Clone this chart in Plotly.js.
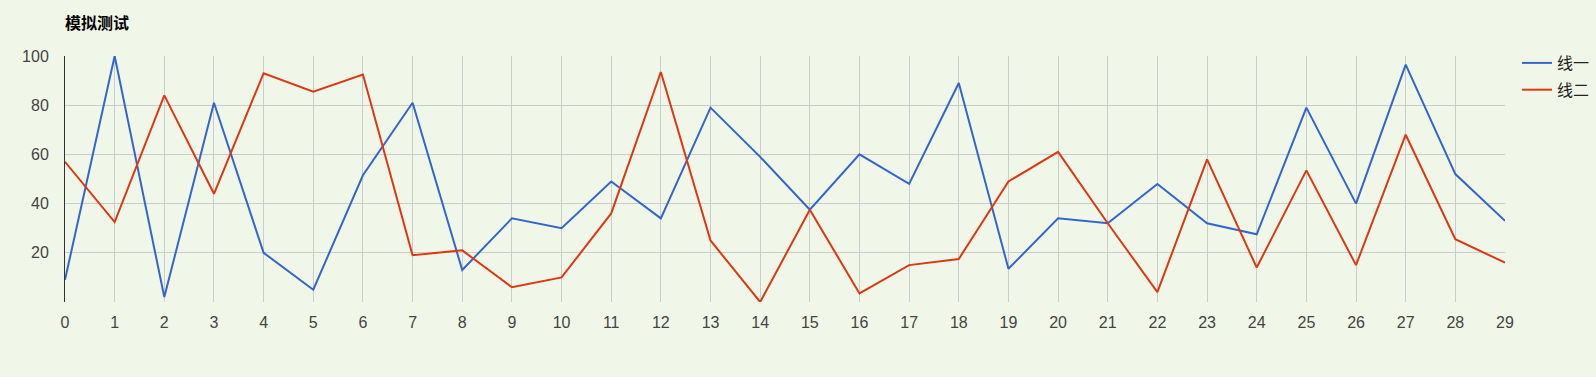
<!DOCTYPE html>
<html>
<head>
<meta charset="utf-8">
<script src="https://cdn.plot.ly/plotly-3.0.1.min.js"></script>
<style>
html,body{margin:0;padding:0;background:#f1f7e8;}
#chart{width:1596px;height:377px;}
</style>
</head>
<body>
<div id="chart"></div>
<script>
const categories = [0,1,2,3,4,5,6,7,8,9,10,11,12,13,14,15,16,17,18,19,20,21,22,23,24,25,26,27,28,29];
const seriesNames = ['线一', '线二'];
const line1 = [9,100,2,81,20,5,51.5,81,13,34,30,49,34,79,59,37.5,60,48,89,13.5,34,32,48,32,27.5,79,40,96.5,52,33];
const line2 = [57,32.5,84,44,93,85.5,92.5,19,21,6,10,36,93.5,25,0,37.5,3.5,15,17.5,49,61,32,4,58,14,53.5,15,68,25.5,16];
const yTicks = [20,40,60,80,100];
const chartTitle = '模拟测试';

const font = "Arial, 'Liberation Sans', 'Noto Sans CJK SC', sans-serif";
const bg = '#f1f7e8';

const traces = [
  {x: categories, y: line1, name: seriesNames[0], type: 'scatter', mode: 'lines',
   line: {color: '#3366cc', width: 2}, legendgroup: 'a'},
  {x: categories, y: line2, name: seriesNames[1], type: 'scatter', mode: 'lines',
   line: {color: '#dc3912', width: 2}, legendgroup: 'b'}
];

const layout = {
  width: 1596, height: 377,
  paper_bgcolor: bg, plot_bgcolor: bg,
  margin: {l: 65, r: 91, t: 56, b: 75, pad: 0, autoexpand: false},
  font: {family: font, size: 16, color: '#444'},
  title: {text: '<b>' + chartTitle + '</b>', x: 65/1596, xanchor: 'left', xref: 'container',
          y: 1 - 23/377, yanchor: 'middle', yref: 'container',
          font: {family: font, size: 16, color: '#000'}},
  xaxis: {range: [0, 29], tickvals: categories, ticktext: categories.map(String),
          showgrid: true, gridcolor: '#cccccc', gridwidth: 1, zeroline: false,
          showline: false, ticks: '', fixedrange: true, ticklabelstandoff: 9,
          tickfont: {family: font, size: 16, color: '#444'}},
  yaxis: {range: [0, 100], tickvals: yTicks, ticktext: yTicks.map(String),
          showgrid: true, gridcolor: '#cccccc', gridwidth: 1, zeroline: false,
          showline: true, linecolor: '#333', linewidth: 1, ticks: '',
          ticklabelstandoff: 12, fixedrange: true,
          tickfont: {family: font, size: 16, color: '#444'}},
  showlegend: true,
  legend: {x: 1517 / 1596, xref: 'container', xanchor: 'left', y: 1 - 46/377, yref: 'container', yanchor: 'top',
           bgcolor: 'rgba(0,0,0,0)', borderwidth: 0,
           font: {family: font, size: 16, color: '#222'},
           traceorder: 'grouped', tracegroupgap: 3, itemwidth: 30}
};

Plotly.newPlot('chart', traces, layout, {displayModeBar: false, staticPlot: true});
</script>
</body>
</html>
